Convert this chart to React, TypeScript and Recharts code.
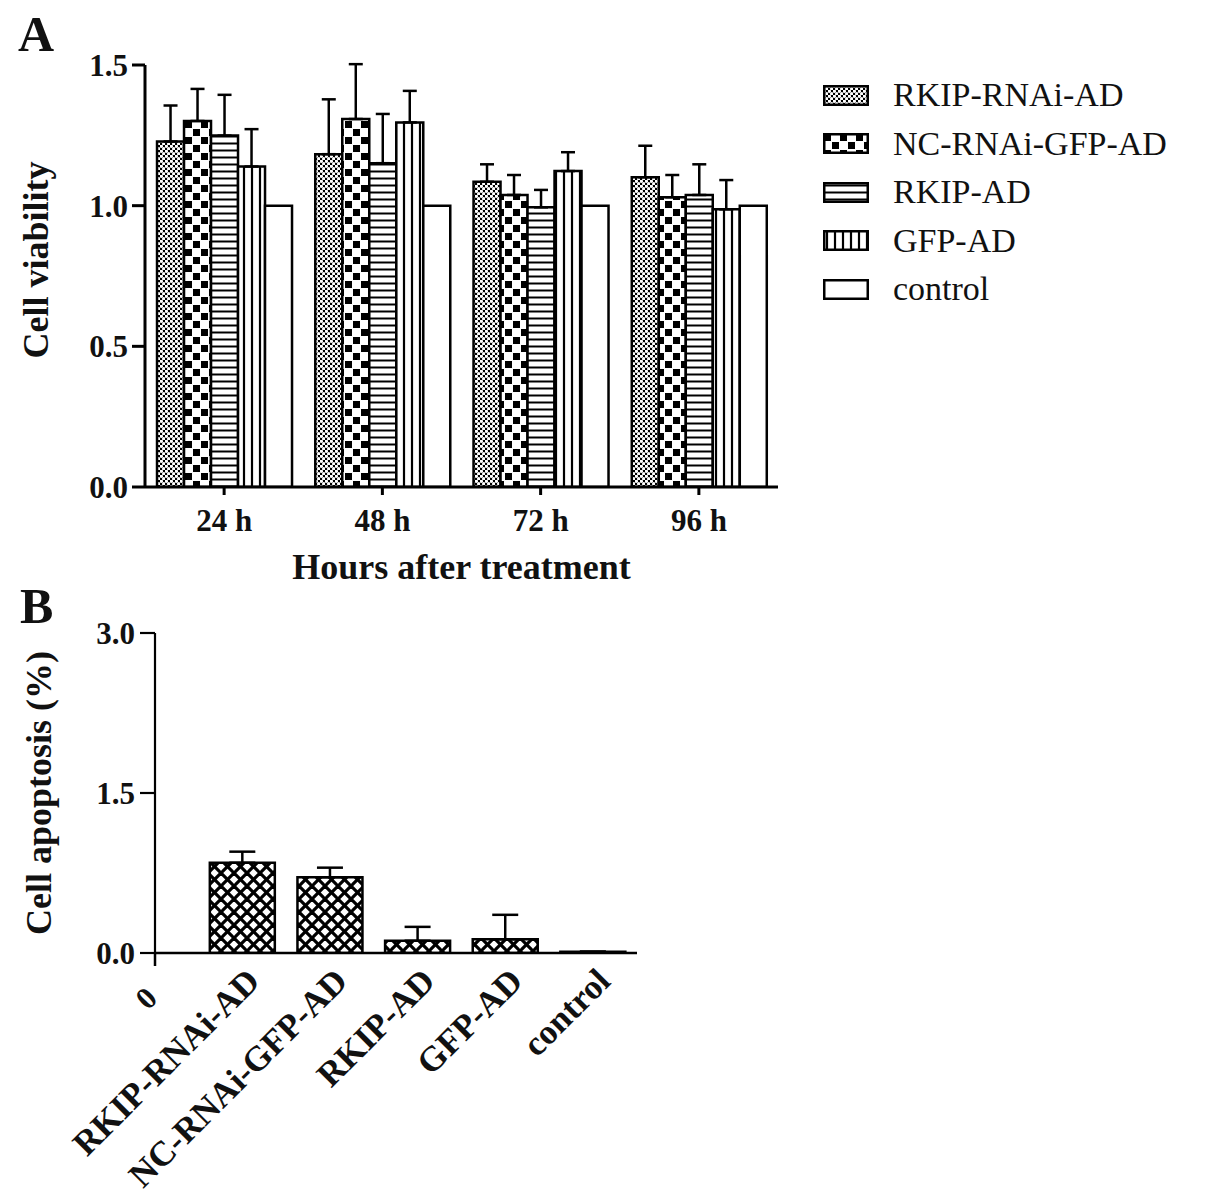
import React from "react";
import { BarChart, Bar, XAxis, YAxis, ErrorBar, Legend } from "recharts";

const FONT = "'Liberation Serif', 'Times New Roman', serif";
const INK = "#111";

// ---------- Panel A data ----------
const TIMEPOINTS = ["24 h", "48 h", "72 h", "96 h"];
const SERIES_NAMES = ["RKIP-RNAi-AD", "NC-RNAi-GFP-AD", "RKIP-AD", "GFP-AD", "control"];
const RKIP_RNAI = [1.228, 1.183, 1.085, 1.101];
const RKIP_RNAI_ERR = [0.128, 0.195, 0.062, 0.112];
const NC_RNAI = [1.301, 1.308, 1.038, 1.03];
const NC_RNAI_ERR = [0.114, 0.195, 0.071, 0.079];
const RKIP_AD = [1.249, 1.151, 0.994, 1.038];
const RKIP_AD_ERR = [0.145, 0.175, 0.062, 0.109];
const GFP_AD = [1.139, 1.296, 1.123, 0.987];
const GFP_AD_ERR = [0.133, 0.112, 0.067, 0.104];
const CONTROL = [1.0, 1.0, 1.0, 1.0];
const A_TICKS = [0, 0.5, 1.0, 1.5];

// ---------- Panel B data ----------
const GROUPS = ["RKIP-RNAi-AD", "NC-RNAi-GFP-AD", "RKIP-AD", "GFP-AD", "control"];
const APOPTOSIS = [0.846, 0.71, 0.115, 0.128, 0.012];
const APOPTOSIS_ERR = [0.104, 0.09, 0.13, 0.23, 0];
const B_Y_TICKS = [0, 1.5, 3.0];
const B_X_TICKS = [0, 1, 2, 3, 4, 5];

const dataA = TIMEPOINTS.map((t, i) => ({
  time: t,
  rkipRnai: RKIP_RNAI[i],
  rkipRnaiErr: [0, RKIP_RNAI_ERR[i]],
  ncRnai: NC_RNAI[i],
  ncRnaiErr: [0, NC_RNAI_ERR[i]],
  rkipAd: RKIP_AD[i],
  rkipAdErr: [0, RKIP_AD_ERR[i]],
  gfpAd: GFP_AD[i],
  gfpAdErr: [0, GFP_AD_ERR[i]],
  control: CONTROL[i],
}));

const dataB = GROUPS.map((g, i) => ({
  pos: i + 1,
  name: g,
  value: APOPTOSIS[i],
  err: [0, APOPTOSIS_ERR[i]],
}));

const tickStyle = { fontSize: 31, fontWeight: 700, fontFamily: FONT, fill: INK };

function Patterns() {
  return (
    <defs>
      <pattern id="patDots" patternUnits="userSpaceOnUse" width="5" height="5">
        <rect width="5" height="5" fill="#000" />
        <circle cx="1.25" cy="1.25" r="1.75" fill="#fff" />
        <circle cx="3.75" cy="3.75" r="1.75" fill="#fff" />
      </pattern>
      <pattern id="patChecker" patternUnits="userSpaceOnUse" width="16" height="16">
        <rect width="16" height="16" fill="#fff" />
        <rect x="1" y="1" width="7" height="7" fill="#000" />
        <rect x="9" y="9" width="7" height="7" fill="#000" />
      </pattern>
      <pattern id="patHoriz" patternUnits="userSpaceOnUse" width="7" height="7">
        <rect width="7" height="7" fill="#fff" />
        <line x1="0" y1="3.5" x2="7" y2="3.5" stroke="#000" strokeWidth="2" />
      </pattern>
      <pattern id="patVert" patternUnits="userSpaceOnUse" width="8" height="8">
        <rect width="8" height="8" fill="#fff" />
        <line x1="4" y1="0" x2="4" y2="8" stroke="#000" strokeWidth="2.2" />
      </pattern>
      <pattern id="patCross" patternUnits="userSpaceOnUse" width="13" height="13">
        <rect width="13" height="13" fill="#fff" />
        <line x1="-1" y1="-1" x2="14" y2="14" stroke="#000" strokeWidth="3.2" />
        <line x1="14" y1="-1" x2="-1" y2="14" stroke="#000" strokeWidth="3.2" />
      </pattern>
    </defs>
  );
}

function LegendContent(props: any) {
  const payload = props.payload || [];
  return (
    <div style={{ fontFamily: FONT, color: INK }}>
      {payload.map((entry: any, i: number) => (
        <div key={i} style={{ display: "flex", alignItems: "center", height: 48.5 }}>
          <svg width={46} height={21} style={{ display: "block" }}>
            <rect x={1.25} y={1.25} width={43.5} height={18.5} fill={entry.color} stroke="#000" strokeWidth={2.5} />
          </svg>
          <span style={{ marginLeft: 24, fontSize: 34, lineHeight: "34px", whiteSpace: "nowrap" }}>{entry.value}</span>
        </div>
      ))}
    </div>
  );
}

function RotatedTitle(props: any) {
  const { viewBox, value, cx, cy } = props;
  const x = viewBox.x + cx;
  const y = viewBox.y + viewBox.height / 2 + cy;
  return (
    <text
      x={x}
      y={y}
      transform={`rotate(-90, ${x}, ${y})`}
      textAnchor="middle"
      dominantBaseline="central"
      fontFamily={FONT}
      fontWeight={700}
      fontSize={36}
      fill={INK}
    >
      {value}
    </text>
  );
}

function XTitle(props: any) {
  const { viewBox, value, dy } = props;
  return (
    <text
      x={viewBox.x + viewBox.width / 2}
      y={viewBox.y + dy}
      textAnchor="middle"
      fontFamily={FONT}
      fontWeight={700}
      fontSize={36}
      fill={INK}
    >
      {value}
    </text>
  );
}

function BTick(props: any) {
  const { x, y, payload } = props;
  const v = payload.value;
  const isZero = v === 0;
  const label = isZero ? "0" : GROUPS[v - 1];
  const ax = isZero ? x + 4 : x + 19;
  const ay = isZero ? y + 47 : y + 30;
  return (
    <g>
      {isZero && <line x1={x} y1={y} x2={x} y2={y + 13} stroke="#000" strokeWidth={2.5} />}
      <text
        x={ax}
        y={ay}
        transform={`rotate(-45, ${ax}, ${ay})`}
        textAnchor="end"
        fontFamily={FONT}
        fontWeight={700}
        fontSize={isZero ? 31 : 35}
        fill={INK}
      >
        {label}
      </text>
    </g>
  );
}

const barStroke = { stroke: "#000", strokeWidth: 2.5 };
const errProps = { stroke: "#000", strokeWidth: 2.5, width: 7, direction: "y" as const };

export default function App() {
  return (
    <div style={{ position: "absolute", left: 0, top: 0, width: 1205, height: 1202, background: "#fff", overflow: "hidden" }}>
      <div style={{ position: "absolute", left: 18, top: 9, fontFamily: FONT, fontWeight: 700, fontSize: 50, lineHeight: 1, color: INK }}>A</div>
      <div style={{ position: "absolute", left: 20, top: 581, fontFamily: FONT, fontWeight: 700, fontSize: 50, lineHeight: 1, color: INK }}>B</div>

      <div style={{ position: "absolute", left: 0, top: 0 }}>
        <BarChart
          width={1205}
          height={600}
          data={dataA}
          margin={{ top: 65, right: 427, bottom: 0, left: 0 }}
          barCategoryGap="7.6%"
          barGap={0}
        >
          <Patterns />
          <XAxis
            dataKey="time"
            height={113}
            interval={0}
            axisLine={{ stroke: "#000", strokeWidth: 3 }}
            tickLine={{ stroke: "#000", strokeWidth: 3 }}
            tickSize={8}
            tickMargin={14}
            tick={tickStyle}
            label={<XTitle value="Hours after treatment" dy={92} />}
          />
          <YAxis
            width={145}
            domain={[0, 1.5]}
            ticks={A_TICKS}
            allowDataOverflow
            interval={0}
            tickFormatter={(v: number) => v.toFixed(1)}
            axisLine={{ stroke: "#000", strokeWidth: 3 }}
            tickLine={{ stroke: "#000", strokeWidth: 3 }}
            tickSize={13}
            tickMargin={4}
            tick={tickStyle}
            label={<RotatedTitle value="Cell viability" cx={36} cy={-16} />}
          />
          <Legend
            layout="vertical"
            align="center"
            verticalAlign="middle"
            width={380}
            itemSorter={(item: any) => SERIES_NAMES.indexOf(item.value)}
            content={<LegendContent />}
            wrapperStyle={{ left: 823, top: 71, width: 380 }}
          />
          <Bar dataKey="rkipRnai" name={SERIES_NAMES[0]} fill="url(#patDots)" {...barStroke} isAnimationActive={false}>
            <ErrorBar dataKey="rkipRnaiErr" {...errProps} isAnimationActive={false} />
          </Bar>
          <Bar dataKey="ncRnai" name={SERIES_NAMES[1]} fill="url(#patChecker)" {...barStroke} isAnimationActive={false}>
            <ErrorBar dataKey="ncRnaiErr" {...errProps} isAnimationActive={false} />
          </Bar>
          <Bar dataKey="rkipAd" name={SERIES_NAMES[2]} fill="url(#patHoriz)" {...barStroke} isAnimationActive={false}>
            <ErrorBar dataKey="rkipAdErr" {...errProps} isAnimationActive={false} />
          </Bar>
          <Bar dataKey="gfpAd" name={SERIES_NAMES[3]} fill="url(#patVert)" {...barStroke} isAnimationActive={false}>
            <ErrorBar dataKey="gfpAdErr" {...errProps} isAnimationActive={false} />
          </Bar>
          <Bar dataKey="control" name={SERIES_NAMES[4]} fill="#fff" {...barStroke} isAnimationActive={false} />
        </BarChart>
      </div>

      <div style={{ position: "absolute", left: 0, top: 600 }}>
        <BarChart
          width={700}
          height={602}
          data={dataB}
          margin={{ top: 33, right: 63, bottom: 9, left: 0 }}
        >
          <Patterns />
          <XAxis
            dataKey="pos"
            type="number"
            domain={[0, 5.5]}
            ticks={B_X_TICKS}
            interval={0}
            height={240}
            axisLine={{ stroke: "#000", strokeWidth: 2.5 }}
            tickLine={false}
            tickSize={0}
            tickMargin={0}
            tick={<BTick />}
          />
          <YAxis
            width={155}
            domain={[0, 3]}
            ticks={B_Y_TICKS}
            allowDataOverflow
            interval={0}
            tickFormatter={(v: number) => v.toFixed(1)}
            axisLine={{ stroke: "#000", strokeWidth: 2.2 }}
            tickLine={{ stroke: "#000", strokeWidth: 2.2 }}
            tickSize={15}
            tickMargin={5}
            tick={{ ...tickStyle, fontSize: 31 }}
            label={<RotatedTitle value="Cell apoptosis (%)" cx={39} cy={0} />}
          />
          <Bar dataKey="value" name="Cell apoptosis" barSize={65} fill="url(#patCross)" {...barStroke} isAnimationActive={false}>
            <ErrorBar dataKey="err" stroke="#000" strokeWidth={2.5} width={13} direction="y" isAnimationActive={false} />
          </Bar>
        </BarChart>
      </div>
    </div>
  );
}
